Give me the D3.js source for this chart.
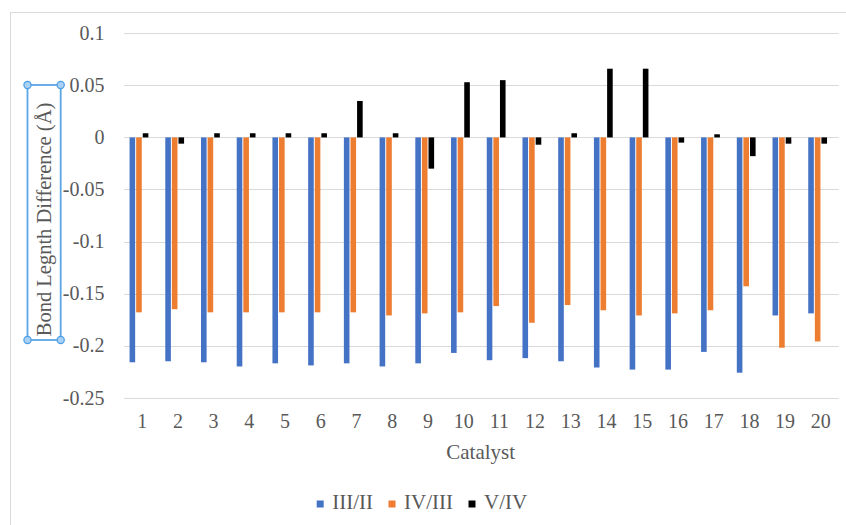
<!DOCTYPE html>
<html>
<head>
<meta charset="utf-8">
<script src="https://cdn.jsdelivr.net/npm/d3@7/dist/d3.min.js"></script>
<style>
  html, body { margin: 0; padding: 0; background: #fff; }
  svg { display: block; }
</style>
</head>
<body>
<svg id="chart" width="846" height="525"></svg>
<script>
const categories = ["1","2","3","4","5","6","7","8","9","10","11","12","13","14","15","16","17","18","19","20"];
const seriesNames = ["III/II", "IV/III", "V/IV"];
const seriesColors = ["#4472c4", "#ed7d31", "#000000"];
const valuesIII_II = [-0.216, -0.215, -0.216, -0.220, -0.217, -0.219, -0.217, -0.220, -0.217, -0.207,
                      -0.214, -0.212, -0.215, -0.221, -0.223, -0.223, -0.206, -0.226, -0.171, -0.169];
const valuesIV_III = [-0.168, -0.165, -0.168, -0.168, -0.168, -0.168, -0.168, -0.171, -0.169, -0.168,
                      -0.162, -0.178, -0.161, -0.166, -0.171, -0.169, -0.166, -0.143, -0.202, -0.196];
const valuesV_IV   = [0.004, -0.006, 0.004, 0.004, 0.004, 0.004, 0.035, 0.004, -0.030, 0.053,
                      0.055, -0.007, 0.004, 0.066, 0.066, -0.005, 0.003, -0.018, -0.006, -0.006];
const yTicks = [0.1, 0.05, 0, -0.05, -0.1, -0.15, -0.2, -0.25];
const yTickLabels = ["0.1", "0.05", "0", "-0.05", "-0.1", "-0.15", "-0.2", "-0.25"];

const allSeries = [valuesIII_II, valuesIV_III, valuesV_IV];

const svg = d3.select("#chart");
const FONT = "'Liberation Serif', Tinos, 'Times New Roman', Times";
const TEXT = "#595959";

svg.append("rect").attr("x", 10.5).attr("y", 12.5).attr("width", 900).attr("height", 600)
  .attr("fill", "none").attr("stroke", "#d9d9d9").attr("stroke-width", 1);

const plot = { left: 124.3, right: 838.7, top: 33.3, bottom: 397.7 };

const x = d3.scaleBand().domain(categories).range([plot.left, plot.right]);
const y = d3.scaleLinear().domain([-0.25, 0.1]).range([plot.bottom, plot.top]);

svg.append("g").selectAll("line").data(yTicks).join("line")
  .attr("x1", plot.left).attr("x2", plot.right)
  .attr("y1", d => Math.round(y(d)) + 0.5).attr("y2", d => Math.round(y(d)) + 0.5)
  .attr("stroke", "#d9d9d9").attr("stroke-width", 1);

svg.append("g").selectAll("text").data(yTicks).join("text")
  .attr("x", 104.5).attr("y", d => y(d) + 6.8)
  .attr("text-anchor", "end").attr("font-size", 20)
  .attr("font-family", FONT).attr("fill", TEXT)
  .text((d, i) => yTickLabels[i]);

svg.append("g").selectAll("text").data(categories).join("text")
  .attr("x", d => x(d) + x.bandwidth() / 2).attr("y", 427.7)
  .attr("text-anchor", "middle").attr("font-size", 20)
  .attr("font-family", FONT).attr("fill", TEXT)
  .text(d => d);

const barW = 5.6, barStep = 6.6, groupShift = -3.2;
allSeries.forEach((vals, si) => {
  svg.append("g").selectAll("rect").data(vals).join("rect")
    .attr("x", (d, i) => x(categories[i]) + x.bandwidth() / 2 + groupShift + (si - 1) * barStep - barW / 2)
    .attr("width", barW)
    .attr("y", d => Math.min(y(d), y(0)))
    .attr("height", d => Math.abs(y(d) - y(0)))
    .attr("fill", seriesColors[si]);
});

svg.append("text").attr("x", 480.7).attr("y", 459.3).attr("text-anchor", "middle")
  .attr("font-size", 21).attr("font-family", FONT).attr("fill", TEXT).text("Catalyst");

const box = { x0: 27.5, x1: 60.7, y0: 85, y1: 340 };
svg.append("rect").attr("x", box.x0).attr("y", box.y0)
  .attr("width", box.x1 - box.x0).attr("height", box.y1 - box.y0)
  .attr("fill", "none").attr("stroke", "#5aa6e6").attr("stroke-width", 1.8);
svg.append("text")
  .attr("transform", `translate(${(box.x0 + box.x1) / 2 + 7},${(box.y0 + box.y1) / 2 + 7}) rotate(-90)`)
  .attr("text-anchor", "middle").attr("font-size", 20.5)
  .attr("font-family", FONT).attr("fill", TEXT)
  .text("Bond Legnth Difference (Å)");
[[box.x0, box.y0], [box.x1, box.y0], [box.x0, box.y1], [box.x1, box.y1]].forEach(([cx, cy]) => {
  svg.append("circle").attr("cx", cx).attr("cy", cy).attr("r", 3.6)
    .attr("fill", "#a9d1f3").attr("stroke", "#4a9de6").attr("stroke-width", 1.2);
});

const legendY = 509;
let lx = 316.7;
const legend = svg.append("g");
seriesNames.forEach((name, i) => {
  legend.append("rect").attr("x", lx).attr("y", legendY - 8.5).attr("width", 7).attr("height", 7)
    .attr("fill", seriesColors[i]);
  const t = legend.append("text").attr("x", lx + 15.5).attr("y", legendY)
    .attr("font-size", 21).attr("font-family", FONT).attr("fill", TEXT).text(name);
  const w = t.node().getComputedTextLength();
  lx += 15.5 + w + 15.5;
});
</script>
</body>
</html>
